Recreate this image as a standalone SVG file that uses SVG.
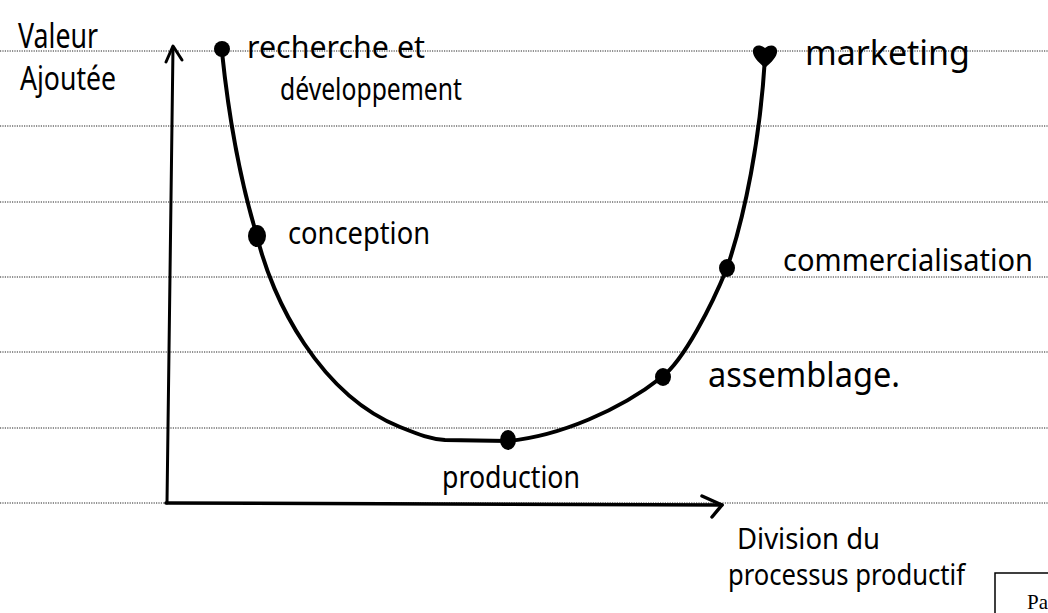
<svg xmlns="http://www.w3.org/2000/svg" width="1048" height="613" viewBox="0 0 1048 613">
<style>
.rule{stroke:#222;stroke-width:1;stroke-dasharray:1.2 1.2;fill:none}
.ink{stroke:#000;fill:none;stroke-linecap:round;stroke-linejoin:round}
.hand{font-family:"Noto Sans","Liberation Sans",sans-serif;fill:#000}
.dot{fill:#000}
</style>
<rect width="1048" height="613" fill="#fff"/>
<g id="ruled-lines">
<line class="rule" x1="0" y1="51" x2="1048" y2="51"/>
<line class="rule" x1="0" y1="126" x2="1048" y2="126"/>
<line class="rule" x1="0" y1="202" x2="1048" y2="202"/>
<line class="rule" x1="0" y1="277" x2="1048" y2="277"/>
<line class="rule" x1="0" y1="352" x2="1048" y2="352"/>
<line class="rule" x1="0" y1="428" x2="1048" y2="428"/>
<line class="rule" x1="0" y1="503" x2="1048" y2="503"/>
</g>
<g id="connectors">
<path class="ink" stroke-width="3" d="M167,503 L173,47"/>
<path class="ink" stroke-width="3" d="M166,62 L173,46 L182,60"/>
<path class="ink" stroke-width="3.5" d="M166,503 L722,505"/>
<path class="ink" stroke-width="3.5" d="M702,496 L722,505 L712,517"/>
<path class="ink" stroke-width="4" d="M222,52 C228,110 240,180 257,236 C272,300 320,395 400,427 C420,435 430,439 445,440 L508,441 C560,436 620,410 662,377 C684,360 712,305 727,268 C745,215 760,140 765,58"/>
</g>
<g id="axis-y-label">
<text class="hand" x="18" y="48" font-size="34" textLength="80" lengthAdjust="spacingAndGlyphs">Valeur</text>
<text class="hand" x="20" y="90" font-size="32" textLength="96" lengthAdjust="spacingAndGlyphs">Ajoutée</text>
</g>
<g id="axis-x-label">
<text class="hand" x="737" y="549" font-size="29" textLength="143" lengthAdjust="spacingAndGlyphs">Division du</text>
<text class="hand" x="728" y="585" font-size="29" textLength="237" lengthAdjust="spacingAndGlyphs">processus productif</text>
</g>
<g id="node-recherche">
<circle class="dot" cx="222" cy="49" r="8"/>
<text class="hand" x="247" y="58" font-size="31" textLength="178" lengthAdjust="spacingAndGlyphs">recherche et</text>
<text class="hand" x="280" y="100" font-size="31" textLength="182" lengthAdjust="spacingAndGlyphs">développement</text>
</g>
<g id="node-conception">
<ellipse class="dot" cx="257" cy="236" rx="9" ry="11"/>
<text class="hand" x="288" y="244" font-size="31" textLength="142" lengthAdjust="spacingAndGlyphs">conception</text>
</g>
<g id="node-production">
<ellipse class="dot" cx="508" cy="440" rx="8" ry="10"/>
<text class="hand" x="442" y="488" font-size="31" textLength="138" lengthAdjust="spacingAndGlyphs">production</text>
</g>
<g id="node-assemblage">
<ellipse class="dot" cx="663" cy="377" rx="8" ry="9"/>
<text class="hand" x="708" y="387" font-size="34" textLength="192" lengthAdjust="spacingAndGlyphs">assemblage.</text>
</g>
<g id="node-commercialisation">
<ellipse class="dot" cx="727" cy="268" rx="8" ry="9"/>
<text class="hand" x="783" y="271" font-size="31" textLength="250" lengthAdjust="spacingAndGlyphs">commercialisation</text>
</g>
<g id="node-marketing">
<path class="dot" d="M765,68 C758,62 752,56 753,50 C754,45 760,44 765,48 C770,44 776,45 777,50 C778,56 772,62 765,68 Z"/>
<text class="hand" x="805" y="65" font-size="34" textLength="165" lengthAdjust="spacingAndGlyphs">marketing</text>
</g>
<g id="page-box">
<path d="M995,613 L995,573 L1048,573" fill="none" stroke="#000" stroke-width="1.5"/>
<text x="1027" y="609" font-family="'Liberation Serif',serif" font-size="21" fill="#000">Pas</text>
</g>
</svg>
